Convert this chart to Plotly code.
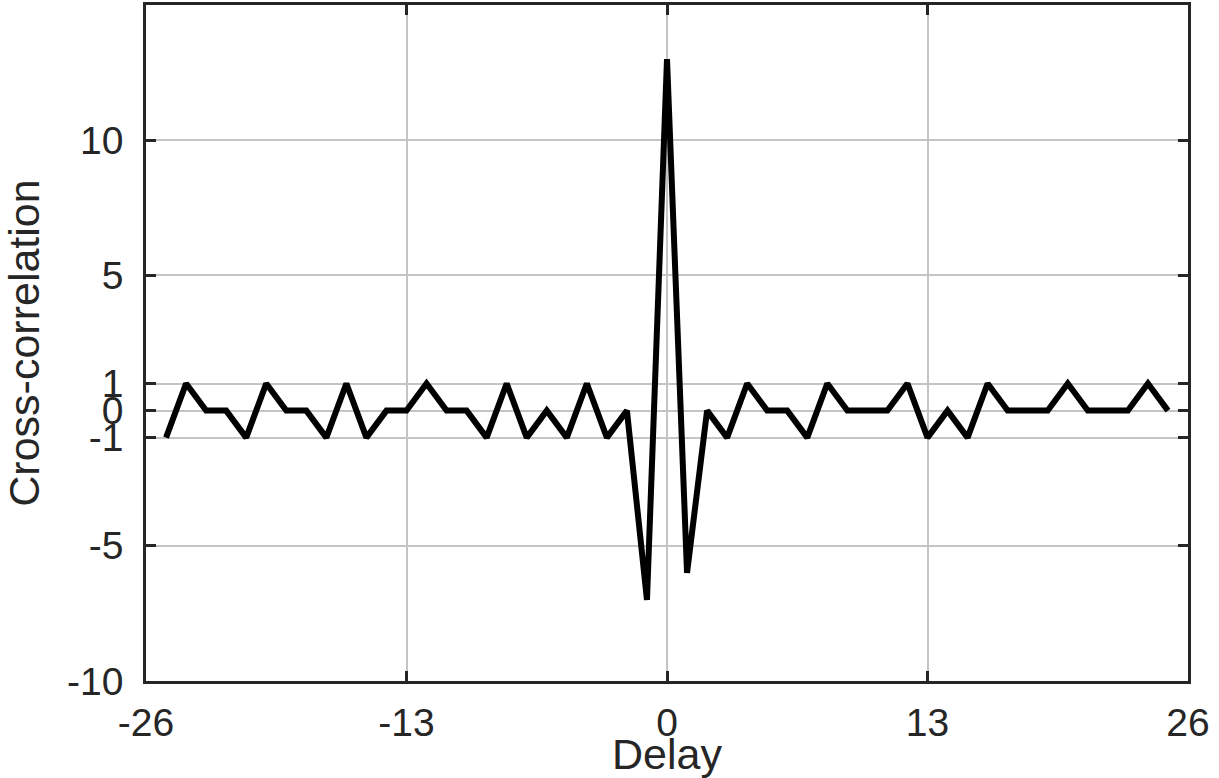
import plotly.graph_objects as go

lags = list(range(-25, 26))
xcorr = [-1, 1, 0, 0, -1, 1, 0, 0, -1, 1, -1, 0, 0, 1, 0, 0, -1, 1, -1, 0, -1, 1, -1, 0, -7,
         13,
         -6, 0, -1, 1, 0, 0, -1, 1, 0, 0, 0, 1, -1, 0, -1, 1, 0, 0, 0, 1, 0, 0, 0, 1, 0]

x_ticks = [-26, -13, 0, 13, 26]
y_ticks = [-10, -5, -1, 0, 1, 5, 10]

axcol = "#262626"
font = "Liberation Sans, Arial, sans-serif"

fig = go.Figure()
fig.add_trace(go.Scatter(x=lags, y=xcorr, mode="lines",
                         line=dict(color="black", width=6), hoverinfo="skip"))

common = dict(showline=True, linecolor=axcol, linewidth=2.5, mirror="ticks",
              ticks="inside", ticklen=10, tickwidth=2.5, tickcolor=axcol,
              showgrid=True, gridcolor="#c4c4c4", gridwidth=1.5, zeroline=False,
              automargin=False,
              tickfont=dict(family=font, size=39, color=axcol))

fig.update_xaxes(range=[-26, 26], tickvals=x_ticks, ticktext=[str(v) for v in x_ticks],
                 ticklabelstandoff=5,
                 title=dict(text="Delay", font=dict(family=font, size=43, color=axcol), standoff=14),
                 **common)
fig.update_yaxes(range=[-10, 15], tickvals=y_ticks, ticktext=[str(v) for v in y_ticks],
                 ticklabelstandoff=12,
                 title=dict(text="Cross-correlation", font=dict(family=font, size=43, color=axcol), standoff=20),
                 **common)

fig.update_layout(width=1219, height=778, margin=dict(l=146, r=31, t=5, b=97),
                  plot_bgcolor="white", paper_bgcolor="white", showlegend=False)

fig.write_html("out.html", config={"displayModeBar": False},
               post_script="document.body.style.margin='0';")
